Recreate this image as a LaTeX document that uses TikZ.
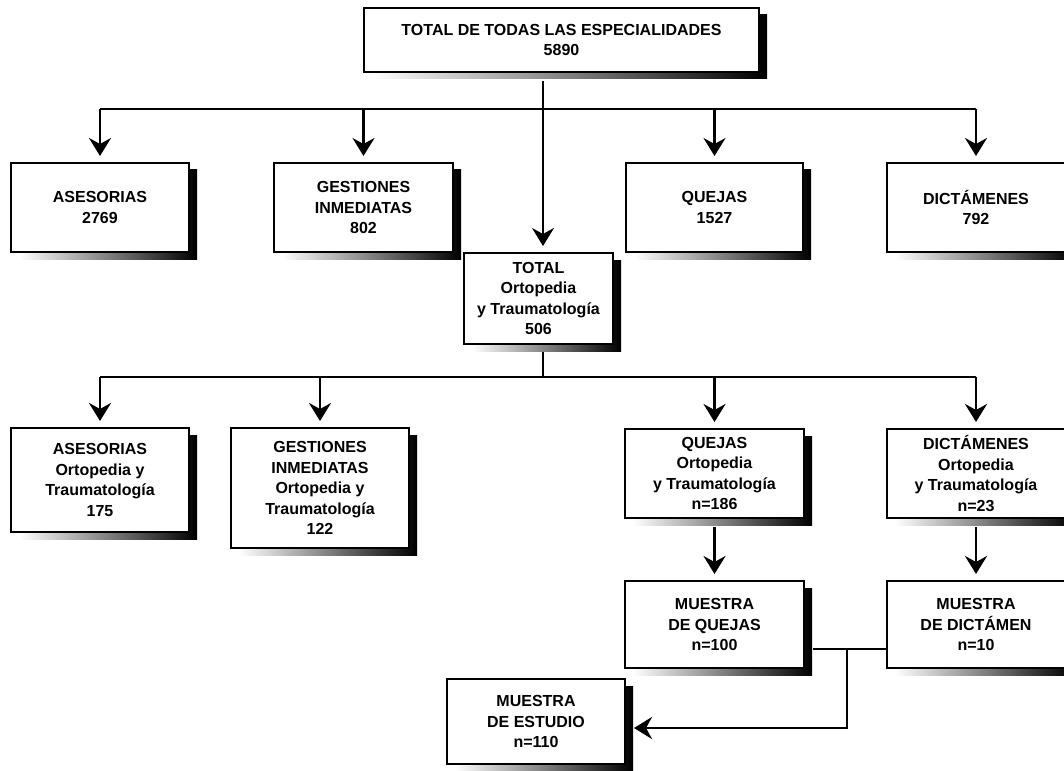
\documentclass[tikz,border=0pt]{standalone}
\usepackage{fontspec}
\setmainfont{Liberation Sans}
\usetikzlibrary{arrows.meta,shadows,calc}

\tikzset{
  box/.style={draw=black, line width=2pt, fill=white, align=center, inner sep=0pt,
    font=\fontsize{16}{20.5}\selectfont\bfseries,
    general shadow={shadow xshift=8pt, shadow yshift=-7pt, left color=white, right color=black}},
  wire/.style={line width=2.4pt},
  link/.style={wire, -{Stealth[length=18pt,width=22pt,inset=6pt]}, shorten >=6pt},
}

\begin{document}
\begin{tikzpicture}[x=1pt, y=-1pt]
\useasboundingbox (0,0) rectangle (1064,770);

% === TOP: all specialities ===
\node[box, minimum width=395pt, minimum height=64pt] (top) at (561.5,40)
  {TOTAL DE TODAS LAS ESPECIALIDADES\\5890};

% === ROW 1: by type ===
\node[box, minimum width=178pt, minimum height=89pt] (ases) at (100,207.5) {ASESORIAS\\2769};
\node[box, minimum width=179pt, minimum height=89pt] (gest) at (363.5,207.5) {GESTIONES\\INMEDIATAS\\802};
\node[box, minimum width=177pt, minimum height=89pt] (quej) at (714.5,207.5) {QUEJAS\\1527};
\node[box, minimum width=178pt, minimum height=89pt] (dict) at (976,207.5) {DICTÁMENES\\792};

% === CENTER: orthopaedics total ===
\node[box, minimum width=149pt, minimum height=91pt] (tot) at (538.5,298.5)
  {TOTAL\\Ortopedia\\y Traumatología\\506};

% === ROW 2: orthopaedics by type ===
\node[box, minimum width=178pt, minimum height=104pt] (asesO) at (100,480)
  {ASESORIAS\\Ortopedia y\\Traumatología\\175};
\node[box, minimum width=178pt, minimum height=120pt] (gestO) at (320,488)
  {GESTIONES\\INMEDIATAS\\Ortopedia y\\Traumatología\\122};
\node[box, minimum width=179pt, minimum height=89pt] (quejO) at (714.5,473.5)
  {QUEJAS\\Ortopedia\\y Traumatología\\n=186};
\node[box, minimum width=178pt, minimum height=89pt] (dictO) at (976,473.5)
  {DICTÁMENES\\Ortopedia\\y Traumatología\\n=23};

% === ROW 3: samples ===
\node[box, minimum width=179pt, minimum height=87pt] (mq) at (714.5,624.5) {MUESTRA\\DE QUEJAS\\n=100};
\node[box, minimum width=178pt, minimum height=87pt] (md) at (976,624.5) {MUESTRA\\DE DICTÁMEN\\n=10};
\node[box, minimum width=178pt, minimum height=85pt] (me) at (536,721.5) {MUESTRA\\DE ESTUDIO\\n=110};

% === connectors ===
\coordinate (r1) at (543,109);
\coordinate (r2) at (543,377);
\coordinate (mj) at (847,649);

\draw[link] ($(top.south -| r1)+(0,8)$) -- (tot.north -| r1);
\draw[wire] (ases.north |- r1) -- (dict.north |- r1);
\foreach \n in {ases,gest,quej,dict}
  \draw[link] (\n.north |- r1) -- (\n.north);

\draw[wire] ($(tot.south -| r2)+(0,7)$) -- (r2);
\draw[wire] (asesO.north |- r2) -- (dictO.north |- r2);
\foreach \n in {asesO,gestO,quejO,dictO}
  \draw[link] (\n.north |- r2) -- (\n.north);

\draw[link] ($(quejO.south)+(0,8)$) -- (mq.north);
\draw[link] ($(dictO.south)+(0,8)$) -- (md.north);

\draw[wire] ($(mq.east |- mj)+(8,0)$) -- (md.west |- mj);
\draw[link, shorten >=0pt] (mj) |- ($(me.east)+(8,6.5)$);

\end{tikzpicture}
\end{document}
